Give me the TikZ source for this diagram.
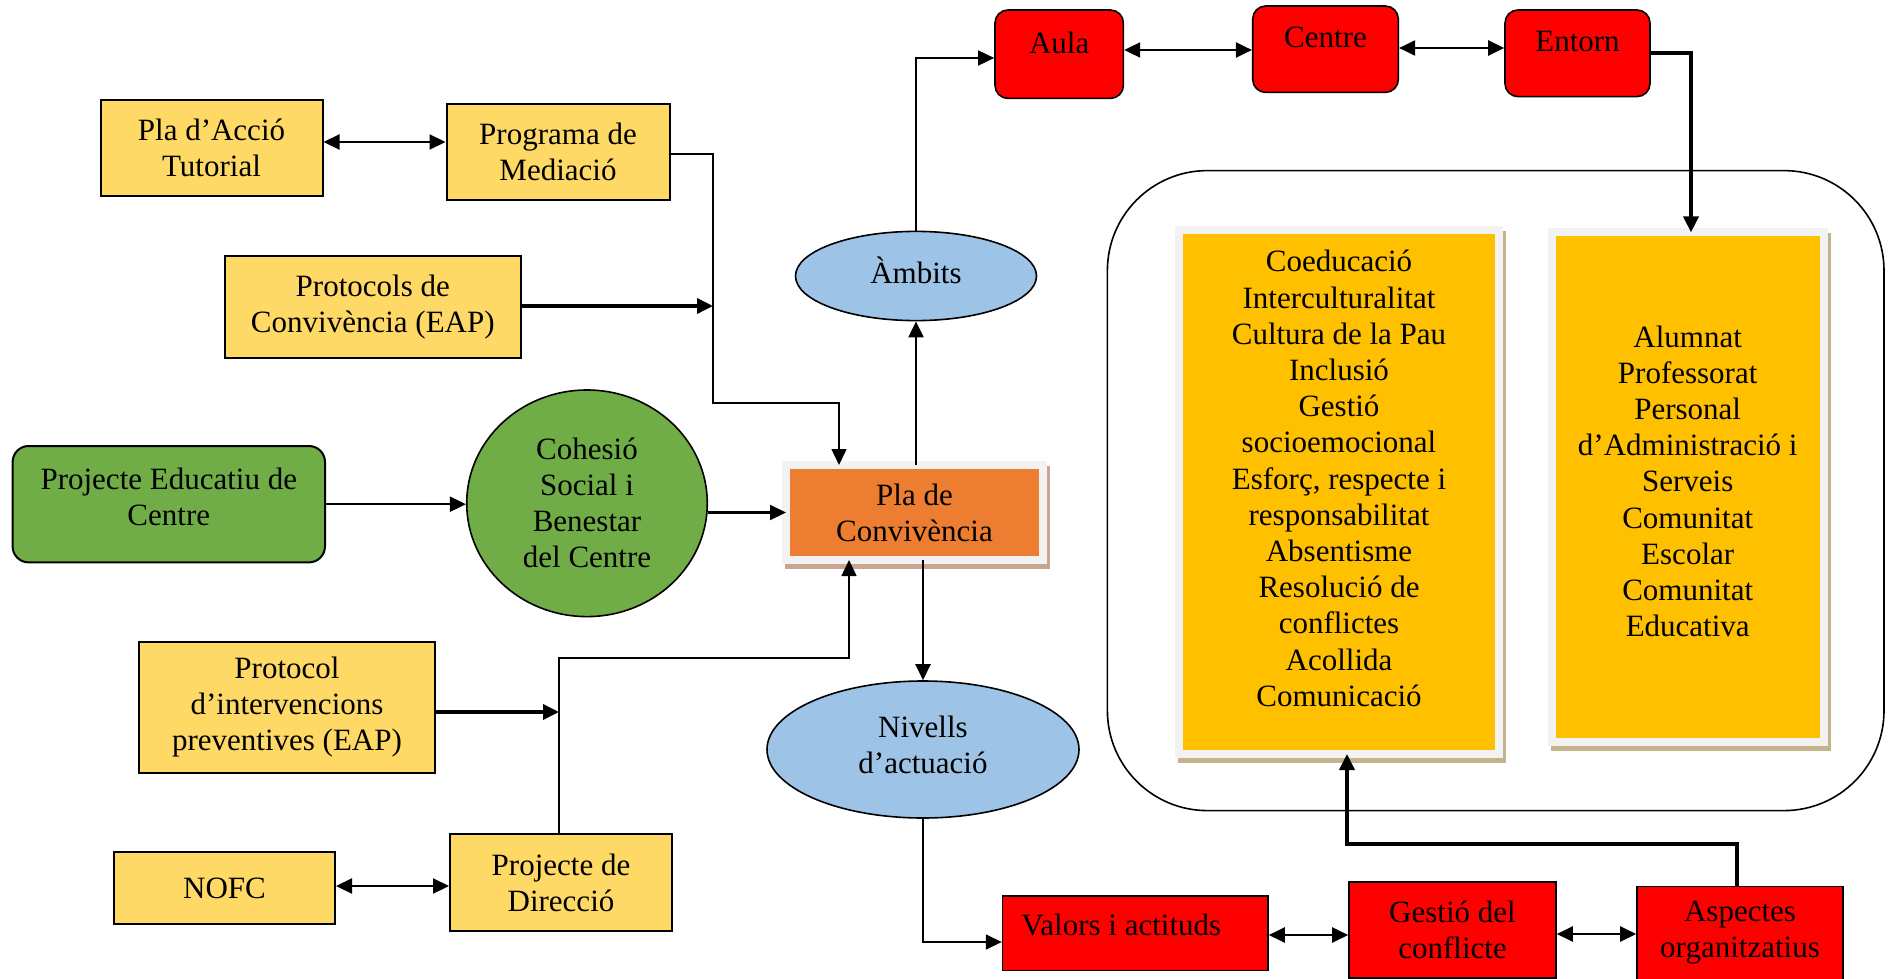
\documentclass[tikz,border=0pt]{standalone}
\usepackage{fontspec}
\setmainfont{Liberation Serif}
\usetikzlibrary{arrows.meta,shapes.geometric,backgrounds}
\definecolor{yel}{HTML}{FFD966}
\definecolor{grn}{HTML}{70AD47}
\definecolor{blu}{HTML}{9DC3E6}
\definecolor{org}{HTML}{ED7D31}
\definecolor{lst}{HTML}{FFC000}
\definecolor{frm}{HTML}{F2F2F2}
\definecolor{shd}{HTML}{C4B48C}
\definecolor{shdo}{HTML}{C8A690}
\definecolor{rd}{HTML}{FF0000}
\begin{document}
\begin{tikzpicture}[x=0.5pt,y=-0.5pt,
  every node/.style={font=\fontsize{15.5}{18}\selectfont, align=center, inner sep=0pt},
  ybox/.style={draw, line width=1pt, fill=yel, rectangle},
  gbox/.style={draw, line width=1pt, fill=grn, rounded corners=8pt},
  ell/.style={draw, line width=0.8pt, ellipse, inner sep=0pt},
  rbox/.style={draw, line width=0.8pt, fill=rd, rounded corners=6.5pt, text depth=11.5pt},
  rsq/.style={draw, line width=0.8pt, fill=rd},
  frbox/.style={draw=frm, line width=4pt, outer sep=0pt},
  listtext/.style={font=\fontsize{15.5}{18.1}\selectfont},
  arr/.style={-{Triangle[length=8pt,width=7.5pt]}},
  darr/.style={{Triangle[length=8pt,width=7.5pt]}-{Triangle[length=8pt,width=7.5pt]}},
  lthin/.style={line width=0.75pt},
  lmid/.style={line width=1.1pt},
  lthick/.style={line width=1.8pt}]
\useasboundingbox (0,0) rectangle (1890,979);

% container
\node[draw, line width=0.8pt, rounded corners=50pt, minimum width=388.3pt, minimum height=320pt] (cont) at (1495.7,490.6) {};

% list boxes
\node[frbox, fill=lst, minimum width=160pt, minimum height=262pt] (llist) at (1339,492) {};
\node[listtext] (ltxt) at ([yshift=6.75pt]llist.center) {Coeducació\\Interculturalitat\\Cultura de la Pau\\Inclusió\\Gestió\\socioemocional\\Esforç, respecte i\\responsabilitat\\Absentisme\\Resolució de\\conflictes\\Acollida\\Comunicació};
\node[frbox, fill=lst, minimum width=136pt, minimum height=254.8pt] (rlist) at (1687.7,487.2) {};
\node[listtext] (rtxt) at ([yshift=3pt]rlist.center) {Alumnat\\Professorat\\Personal\\d’Administració i\\Serveis\\Comunitat\\Escolar\\Comunitat\\Educativa};

% yellow boxes
\node[ybox, minimum width=111pt, minimum height=48pt] (pat) at (211.5,148) {Pla d’Acció\\Tutorial};
\node[ybox, minimum width=111.5pt, minimum height=48pt] (pm) at (558,152) {Programa de\\Mediació};
\node[ybox, minimum width=148.2pt, minimum height=51.2pt] (pc) at (372.8,307.2) {Protocols de\\Convivència (EAP)};
\node[ybox, minimum width=148pt, minimum height=65.5pt] (pip) at (287,707.5) {Protocol\\d’intervencions\\preventives (EAP)};
\node[ybox, minimum width=110.5pt, minimum height=36pt] (nofc) at (224.5,888) {NOFC};
\node[ybox, minimum width=111pt, minimum height=48.5pt] (pd) at (561,882.5) {Projecte de\\Direcció};

% green
\node[gbox, minimum width=156.2pt, minimum height=58.2pt, text depth=7pt] (pec) at (168.8,504.2) {Projecte Educatiu de\\Centre};
\node[ell, fill=grn, minimum width=120.3pt, minimum height=113.3pt] (coh) at (587,503.3) {Cohesió\\Social i\\Benestar\\del Centre};

% central
\node[frbox, fill=org, minimum width=128.5pt, minimum height=47.5pt] (plc) at (914.5,512.5) {Pla de\\Convivència};
\node[ell, fill=blu, minimum width=120.5pt, minimum height=44.6pt, text depth=6pt] (amb) at (916,276) {Àmbits};
\node[ell, fill=blu, minimum width=156pt, minimum height=68.5pt, text depth=5pt] (niv) at (923,749.5) {Nivells\\d’actuació};

% red top
\node[rbox, minimum width=64.2pt, minimum height=44.2pt] (aula) at (1059.2,54.2) {Aula};
\node[rbox, minimum width=72.8pt, minimum height=43.2pt] (centre) at (1325.5,49.2) {Centre};
\node[rbox, minimum width=72.5pt, minimum height=43.3pt] (entorn) at (1577.5,53.3) {Entorn};

% red bottom
\node[rsq, minimum width=132.7pt, minimum height=37.3pt, text depth=8.4pt] (valors) at (1135.3,933.3) {Valors i actituds\hspace*{14pt}};
\node[rsq, minimum width=103.5pt, minimum height=47.8pt] (gestio) at (1452.5,930) {Gestió del\\conflicte};
\node[rsq, minimum width=103pt, minimum height=46.5pt] (aspectes) at (1740,933) {Aspectes\\organitzatius};

% shadows
\begin{scope}[on background layer]
\fill[shd] ([shift={(-0.5pt,-4.5pt)}]llist.south west) rectangle ([shift={(3.5pt,-0.5pt)}]llist.north east);
\fill[shd] ([shift={(-0.5pt,-4.5pt)}]rlist.south west) rectangle ([shift={(3.5pt,-0.5pt)}]rlist.north east);
\fill[shdo] ([shift={(-0.5pt,-4.5pt)}]plc.south west) rectangle ([shift={(3.5pt,-0.5pt)}]plc.north east);
\end{scope}

% connectors
\draw[lmid,darr] (pat.east |- 0,142) -- (pm.west |- 0,142);
\draw[lthin,arr] (pm.east |- 0,154) -- (713,154) -- (713,403) -- (839,403) -- (839,0 |- plc.north);
\coordinate (j1) at (713,306);
\draw[lthick,arr] (pc.east |- j1) -- (j1);
\draw[lmid,arr] (pec.east) -- (pec.east -| coh.west);
\draw[lmid,arr] (plc.west -| coh.east) -- (plc.west);
\draw[lmid,arr] (amb.south |- plc.north) -- (amb.south);
\draw[lthin,arr] (amb.north) -- (amb.north |- 0,58) -- (aula.west |- 0,58);
\draw[lmid,darr] (aula.east |- 0,50) -- (centre.west |- 0,50);
\draw[lmid,darr] (centre.east |- 0,48) -- (entorn.west |- 0,48);
\draw[lthick,arr] (entorn.east |- 0,53) -- (1691,53) -- (1691,0 |- rlist.north);
\draw[lmid,arr] (niv.north |- plc.south) -- (niv.north);
\draw[lthin,arr] (niv.south) -- (niv.south |- 0,942) -- (valors.west |- 0,942);
\draw[lmid,darr] (valors.east |- 0,935) -- (gestio.west |- 0,935);
\draw[lmid,darr] (gestio.east |- 0,934) -- (aspectes.west |- 0,934);
\draw[lthick,arr] (1737,0 |- aspectes.north) -- (1737,844) -- (1347,844) -- (1347,0 |- llist.south);
\coordinate (j2) at (559,712);
\draw[lthick,arr] (pip.east |- j2) -- (j2);
\draw[lthin,arr] (559,0 |- pd.north) -- (559,658) -- (849,658) -- (849,0 |- plc.south);
\draw[lmid,darr] (nofc.east |- 0,886) -- (pd.west |- 0,886);
\end{tikzpicture}
\end{document}
